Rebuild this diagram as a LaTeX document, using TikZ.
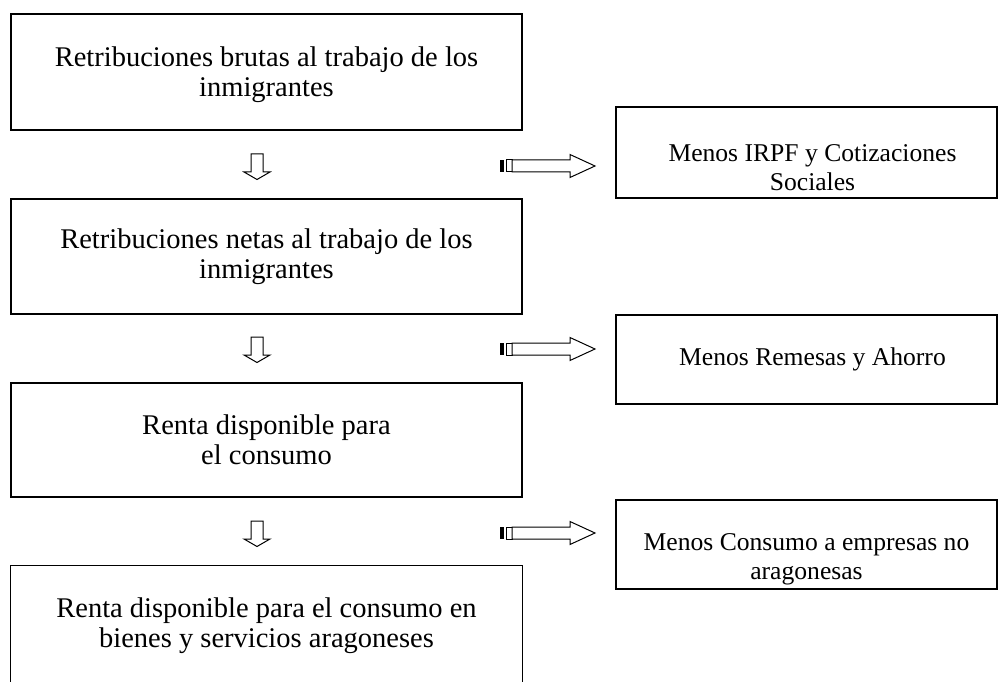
\documentclass[tikz,border=0pt]{standalone}
\usepackage{fontspec}
\setmainfont{Liberation Serif}
\begin{document}
\begin{tikzpicture}[x=1pt,y=-1pt,
  lbox/.style={draw, line width=1.3pt, inner sep=0pt, minimum width=511pt},
  rbox/.style={draw, line width=1.3pt, inner sep=0pt, minimum width=381pt},
  ltext/.style={align=center, inner sep=0pt, font=\fontsize{28.5}{30}\selectfont},
  rtext/.style={align=center, inner sep=0pt, font=\fontsize{25.6}{29}\selectfont},
  arrowshape/.style={draw, line width=1pt, fill=white, line join=miter},
  barshape/.style={fill=black}
]
\useasboundingbox (0,0) rectangle (999,682);

% left boxes
\node[lbox, minimum height=116pt] (b1) at (266.5,72) {};
\node[ltext] (t1) at ([yshift=-3pt]b1.center) {Retribuciones brutas al trabajo de los\\inmigrantes};
\node[lbox, minimum height=115pt] (b2) at (266.5,256.5) {};
\node[ltext] (t2) at (b2.center) {Retribuciones netas al trabajo de los\\inmigrantes};
\node[lbox, minimum height=114pt] (b3) at (266.5,440) {};
\node[ltext] (t3) at (b3.center) {Renta disponible para\\el consumo};
\node[inner sep=0pt, minimum width=511pt, minimum height=116pt] (b4) at (266.5,624) {};
\draw[line width=1.3pt] (b4.south west) -- (b4.north west) -- (b4.north east) -- (b4.south east);
\node[ltext] (t4) at ([yshift=-2pt]b4.center) {Renta disponible para el consumo en\\bienes y servicios aragoneses};

% right boxes
\node[rbox, minimum height=91pt] (ra) at (806.5,152.5) {};
\node[rtext] (tra) at ([xshift=6pt,yshift=-15pt]ra.center) {Menos IRPF y Cotizaciones\\Sociales};
\node[rbox, minimum height=89pt] (rb) at (806.5,359.5) {};
\node[rtext] (trb) at ([xshift=6pt]rb.center) {Menos Remesas y Ahorro};
\node[rbox, minimum height=89pt] (rc) at (806.5,544.5) {};
\node[rtext] (trc) at ([yshift=-15pt]rc.center) {Menos Consumo a empresas no\\aragonesas};

% down arrows
\foreach \n/\yy in {d1/154, d2/337, d3/521} {
  \coordinate (\n) at (257,\yy);
  \draw[arrowshape] (\n) ++(-6,0) -- ++(12,0) -- ++(0,18) -- ++(7,0) -- ++(-13,7.5) -- ++(-13,-7.5) -- ++(7,0) -- cycle;
}

% right striped arrows
\foreach \n/\yy in {s1/166, s2/349, s3/533} {
  \coordinate (\n) at (500,\yy);
  \fill[barshape] (\n) ++(0,-6) rectangle ++(3.5,12);
  \draw[arrowshape] (\n) ++(6,-6) rectangle ++(6,12);
  \draw[arrowshape] (\n) ++(12,-6) -- ++(58,0) -- ++(0,-5.5) -- ++(25,11.5) -- ++(-25,11.5) -- ++(0,-5.5) -- ++(-58,0) -- cycle;
}
\end{tikzpicture}
\end{document}
